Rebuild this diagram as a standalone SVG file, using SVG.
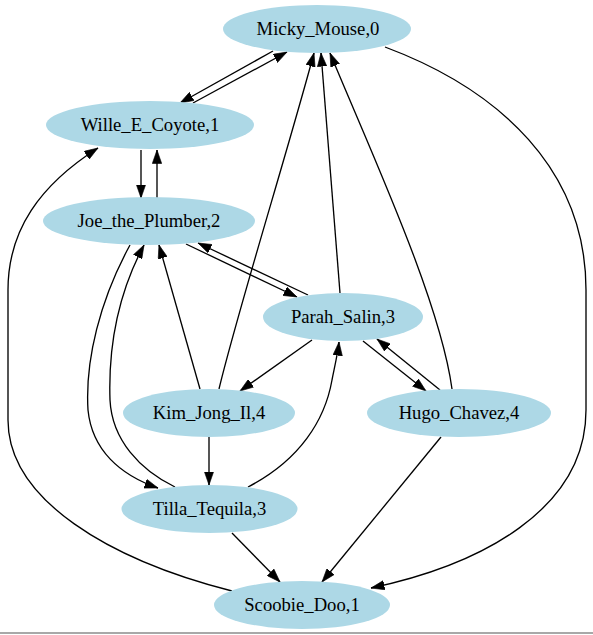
<svg xmlns="http://www.w3.org/2000/svg" width="593" height="635" viewBox="0 0 593 635">
<style>
.node ellipse{fill:#add8e6;stroke:none}
.node text{font-family:'Liberation Serif','Times New Roman',Times,serif;font-size:18.67px;fill:#000;text-anchor:middle}
.edges path{fill:none;stroke:#000;stroke-width:1.33;marker-end:url(#arr)}
</style>
<defs>
<marker id="arr" markerUnits="userSpaceOnUse" markerWidth="14" markerHeight="10" refX="13.5" refY="5" orient="auto" viewBox="0 0 14 10">
<path d="M0,0.3 L13.5,5 L0,9.7 z" fill="#000" stroke="#000" stroke-width="0.6"/>
</marker>
</defs>
<rect x="0" y="0" width="593" height="635" fill="#fff"/>
<rect x="0" y="632" width="593" height="2" fill="#a8a8a8"/>
<g class="edges">
<path d="M273,51 L180,103"/>
<path d="M193,103 L287,52"/>
<path d="M141,150 L141,198"/>
<path d="M157,198 L157,150"/>
<path d="M186,244 L297,297"/>
<path d="M308,295 L198,243"/>
<path d="M340,293 L321,53"/>
<path d="M219,389 C238,310 288,150 314,53"/>
<path d="M452,389 C440,300 370,150 330,53"/>
<path d="M385,47 C500,90 586,170 586,290 L586,410 C586,510 480,565 371,588"/>
<path d="M232,591 C110,560 8,500 8,420 L8,290 C8,230 40,185 98,148"/>
<path d="M130,245 C100,300 85,360 88,410 C92,450 120,475 158,488"/>
<path d="M175,487 C140,470 112,440 110,400 C108,340 120,290 144,245"/>
<path d="M200,389 L159,245"/>
<path d="M312,340 L240,391"/>
<path d="M363,341 L426,391"/>
<path d="M440,390 L377,339"/>
<path d="M209,437 L209,485"/>
<path d="M248,487 C300,460 325,420 332,380 C335,365 338,352 339,342"/>
<path d="M232,533 L280,582"/>
<path d="M441,437 L322,582"/>
</g>
<g id="Micky_Mouse" class="node"><ellipse cx="317" cy="29" rx="94" ry="24"/><text x="318" y="35" font-family="Liberation Serif">Micky_Mouse,0</text></g>
<g id="Wille_E_Coyote" class="node"><ellipse cx="150" cy="125" rx="104" ry="24"/><text x="150" y="131" font-family="Liberation Serif">Wille_E_Coyote,1</text></g>
<g id="Joe_the_Plumber" class="node"><ellipse cx="149" cy="221" rx="106" ry="24"/><text x="149" y="227" font-family="Liberation Serif">Joe_the_Plumber,2</text></g>
<g id="Parah_Salin" class="node"><ellipse cx="343" cy="317" rx="80" ry="24"/><text x="343" y="323" font-family="Liberation Serif">Parah_Salin,3</text></g>
<g id="Kim_Jong_Il" class="node"><ellipse cx="209" cy="413" rx="86" ry="24"/><text x="209" y="419" font-family="Liberation Serif">Kim_Jong_Il,4</text></g>
<g id="Hugo_Chavez" class="node"><ellipse cx="459" cy="413" rx="92" ry="24"/><text x="459" y="419" font-family="Liberation Serif">Hugo_Chavez,4</text></g>
<g id="Tilla_Tequila" class="node"><ellipse cx="209.5" cy="509" rx="88" ry="24"/><text x="209.5" y="515" font-family="Liberation Serif">Tilla_Tequila,3</text></g>
<g id="Scoobie_Doo" class="node"><ellipse cx="302" cy="605" rx="88" ry="24"/><text x="302" y="611" font-family="Liberation Serif">Scoobie_Doo,1</text></g>
</svg>
